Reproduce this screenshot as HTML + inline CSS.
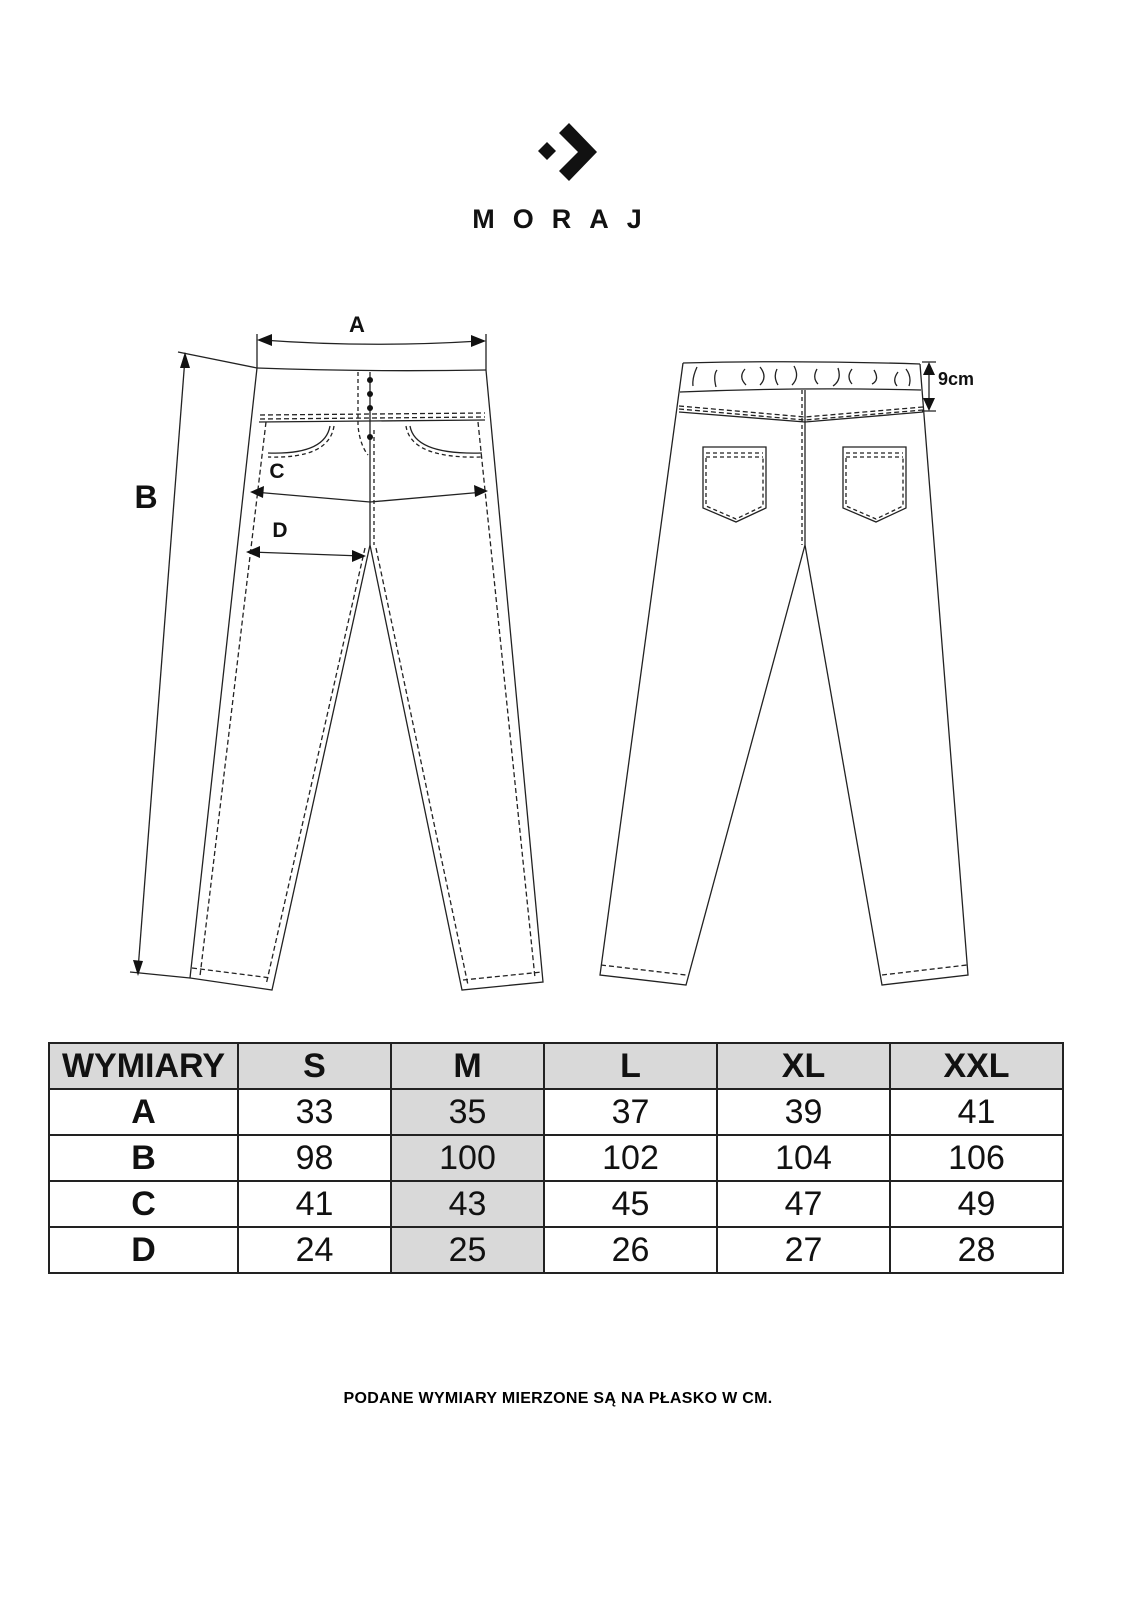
<!DOCTYPE html>
<html><head><meta charset="utf-8"><style>
html,body{margin:0;padding:0;background:#fff}
body{width:1142px;height:1600px;position:relative;font-family:"Liberation Sans",sans-serif}
table{position:absolute;left:48px;top:1042px;border-collapse:collapse;}
td{border:2px solid #222;text-align:center;font-size:34px;height:44px;padding:0;line-height:44px;color:#111}
tr:first-child td{background:#d9d9d9;font-weight:bold}
td.b{font-weight:bold}
td.g{background:#d9d9d9}
.foot{position:absolute;top:1390px;left:-13px;width:1142px;text-align:center;font-weight:bold;font-size:16px;letter-spacing:.3px}
</style></head><body>
<svg width="1142" height="1040" style="position:absolute;left:0;top:0" xmlns="http://www.w3.org/2000/svg">
<polygon points="547,142 556,151 547,160 538,151" fill="#111"/>
<polygon points="559,133 569,123 597,152 569,181 559,171 578,152" fill="#111"/>
<text x="566" y="228" font-family="Liberation Sans" font-weight="bold" font-size="27" text-anchor="middle" letter-spacing="18" fill="#111">MORAJ</text>
<g fill="none" stroke="#222" stroke-width="1.3">
<path d="M257,368 Q366,372 486,370"/>
<path d="M257,368 L190,978 L272,990 L370,545 L462,990 L543,982 L486,370"/>
<path d="M259,422 L485,420"/>
<path d="M260,415 L485,413" stroke-dasharray="5,3"/>
<path d="M260,419 L485,417" stroke-dasharray="5,3"/>
<path d="M370,372 L370,545"/>
<path d="M358,372 L358,426 Q360,445 368,455" stroke-dasharray="4,3"/>
<path d="M330,426 Q325,455 268,453" />
<path d="M334,426 Q329,459 268,457" stroke-dasharray="4,3"/>
<path d="M410,426 Q415,455 482,453"/>
<path d="M406,426 Q411,459 482,457" stroke-dasharray="4,3"/>
<path d="M266,422 L200,976" stroke-dasharray="5,3"/>
<path d="M478,422 L535,978" stroke-dasharray="5,3"/>
<path d="M192,968 L271,978" stroke-dasharray="5,3"/>
<path d="M463,980 L542,972" stroke-dasharray="5,3"/>
<path d="M365,548 L266,985" stroke-dasharray="5,3"/>
<path d="M376,548 L468,985" stroke-dasharray="5,3"/>
<path d="M374,430 L374,545" stroke-dasharray="4,3"/>
<path d="M257,334 L257,368 M486,334 L486,370"/>
<path d="M262,340 Q370,348 480,341"/>
<path d="M178,352 L257,368"/>
<path d="M185,358 L138,970"/>
<path d="M130,972 L190,978"/>
<path d="M254,492 L370,502 L484,492"/>
<path d="M250,552 L362,556"/>
<path d="M683,363 Q800,360 920,364"/>
<path d="M680,392 Q800,387 921,390"/>
<path d="M683,363 L600,975 L686,985 L805,545 L882,985 L968,975 L920,364"/>
<path d="M679,412 L805,422 L923,412"/>
<path d="M679,406 L805,417 L923,407" stroke-dasharray="5,3"/>
<path d="M679,409 L805,420 L923,410" stroke-dasharray="5,3"/>
<path d="M805,390 L805,545"/>
<path d="M802,390 L802,545" stroke-dasharray="4,3"/>
<path d="M601,965 L686,975" stroke-dasharray="5,3"/>
<path d="M882,975 L967,965" stroke-dasharray="5,3"/>
<path d="M703,447 L766,447 L766,508 L736,522 L703,508 Z"/>
<path d="M706,453 L763,453 M706,457 L763,457 M706,458 L706,506 L736,519 L763,506 L763,458" stroke-dasharray="4,3"/>
<path d="M843,447 L906,447 L906,508 L876,522 L843,508 Z"/>
<path d="M846,453 L903,453 M846,457 L903,457 M846,458 L846,506 L876,519 L903,506 L903,458" stroke-dasharray="4,3"/>
<path d="M697,367 Q692,378 693,386 M717,370 Q713,375 716,387 M745,369 Q738,377 746,385 M760,367 Q768,377 760,385 M777,369 Q773,377 778,385 M794,366 Q800,377 792,385 M817,369 Q812,378 818,384 M838,368 Q842,380 833,386 M852,369 Q846,377 852,384 M874,370 Q880,380 872,384 M898,372 Q892,380 897,386 M906,369 Q912,377 909,386"/>
<path d="M922,362 L936,362 M922,411 L936,411 M929,368 L929,405"/>
</g>
<g fill="#111">
<polygon points="257,340 272,334 272,346"/>
<polygon points="486,341 471,335 471,347"/>
<polygon points="185,352 180,368 190,368"/>
<polygon points="138,976 133,960 143,961"/>
<polygon points="250,492 264,486 263,498"/>
<polygon points="488,491 474,485 475,497"/>
<polygon points="246,552 260,546 260,558"/>
<polygon points="366,556 352,550 352,562"/>
<polygon points="929,362 923,375 935,375"/>
<polygon points="929,411 923,398 935,398"/>
<circle cx="370" cy="380" r="3"/><circle cx="370" cy="394" r="3"/><circle cx="370" cy="408" r="3"/><circle cx="370" cy="437" r="3"/>
</g>
<g font-family="Liberation Sans" font-weight="bold" fill="#111">
<text x="357" y="332" font-size="22" text-anchor="middle">A</text>
<text x="146" y="508" font-size="32" text-anchor="middle">B</text>
<text x="277" y="478" font-size="21" text-anchor="middle">C</text>
<text x="280" y="537" font-size="21" text-anchor="middle">D</text>
<text x="938" y="385" font-size="18">9cm</text>
</g>
</svg>
<table>
<tr><td style="width:187px">WYMIARY</td><td style="width:151px">S</td><td style="width:151px">M</td><td style="width:171px">L</td><td style="width:171px">XL</td><td style="width:171px">XXL</td></tr>
<tr><td class="b">A</td><td>33</td><td class="g">35</td><td>37</td><td>39</td><td>41</td></tr>
<tr><td class="b">B</td><td>98</td><td class="g">100</td><td>102</td><td>104</td><td>106</td></tr>
<tr><td class="b">C</td><td>41</td><td class="g">43</td><td>45</td><td>47</td><td>49</td></tr>
<tr><td class="b">D</td><td>24</td><td class="g">25</td><td>26</td><td>27</td><td>28</td></tr>
</table>
<div class="foot">PODANE WYMIARY MIERZONE SĄ NA PŁASKO W CM.</div>
</body></html>
